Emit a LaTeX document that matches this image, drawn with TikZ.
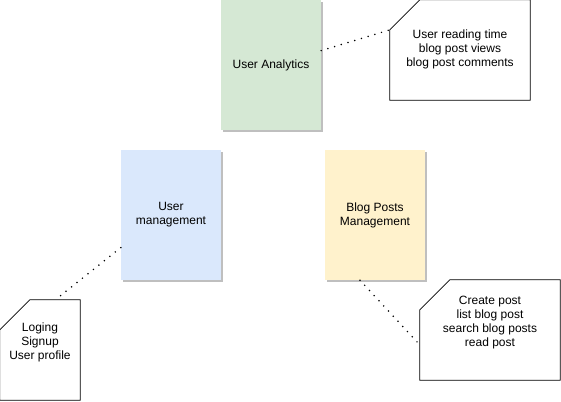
\documentclass[tikz,border=0pt]{standalone}
\usepackage{fontspec}
\setmainfont{Liberation Sans}
\usetikzlibrary{shadows}
\tikzset{
  block/.style={rectangle, minimum width=100pt, minimum height=130pt, inner sep=0pt, align=center,
    drop shadow={shadow xshift=2pt, shadow yshift=-2pt, fill=black!25, opacity=1}},
  note/.style={rectangle, inner sep=0pt, align=center},
  noteline/.style={draw=black, line width=0.8pt, fill=white},
  dots/.style={line width=1.7pt, dash pattern=on 0pt off 7pt, line cap=round}
}
\definecolor{anagreen}{HTML}{D5E8D4}
\definecolor{usrblue}{HTML}{DAE8FC}
\definecolor{blogyellow}{HTML}{FFF2CC}
\def\notebox#1{\filldraw[noteline] ([xshift=30pt]#1.north west) -- (#1.north east) -- (#1.south east) -- (#1.south west) -- ([yshift=-30pt]#1.north west) -- cycle;}
\begin{document}
\begin{tikzpicture}[x=1pt, y=-1pt, font=\fontsize{12}{14}\selectfont]
		%%%%% START %%%%%
		\useasboundingbox (0, 0) rectangle (561, 401);
		
		\node[block, fill=anagreen] (ana) at (271, 65) {User Analytics};
		\node[block, fill=usrblue] (usr) at (171, 215) {User\\management};
		\node[block, fill=blogyellow] (blog) at (375, 215) {Blog Posts\\Management};
		
		\node[note, minimum width=140pt, minimum height=100pt] (note1) at (460, 50) {};
		\notebox{note1}
		\node[note, yshift=1pt] (t1) at (note1.center) {User reading time\\blog post views\\blog post comments};
		
		\node[note, minimum width=80pt, minimum height=100pt] (note2) at (40, 350) {};
		\notebox{note2}
		\node[note, yshift=8pt] (t2) at (note2.center) {Loging\\Signup\\User profile};
		
		\node[note, minimum width=140pt, minimum height=100pt] (note3) at (490, 330) {};
		\notebox{note3}
		\node[note, yshift=7pt] (t3) at (note3.center) {Create post\\list blog post\\search blog posts\\read post};
		
		\draw[dots] (ana.16.7) -- (note1.164);
		\draw[dots] (usr.213.4) -- (note2.73.3);
		\draw[dots] (blog.257) -- (note3.192.1);
		
		%%%%% END %%%%%
\end{tikzpicture}
\end{document}
